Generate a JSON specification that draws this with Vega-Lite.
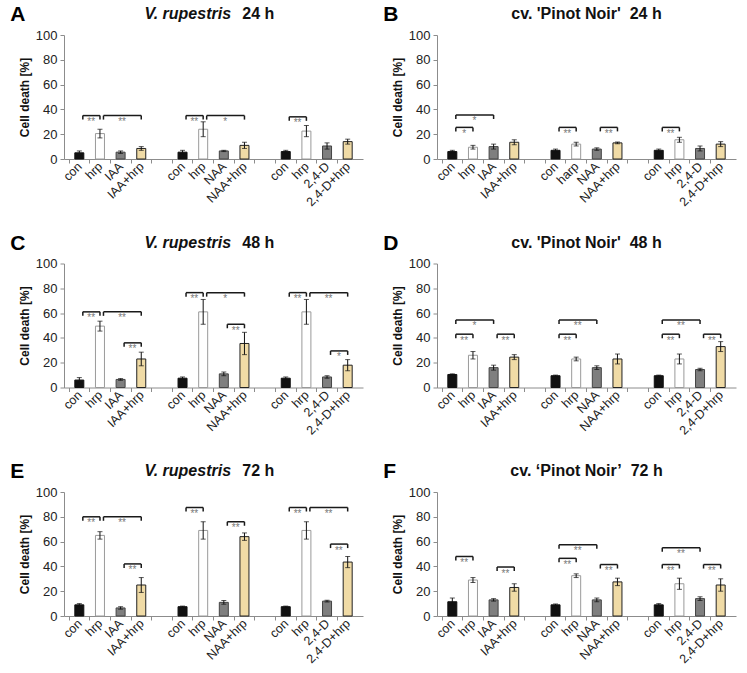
{
  "$schema": "https://vega.github.io/schema/vega-lite/v6.json",
  "background": "white",
  "padding": {"left": 10, "top": 4, "right": 5, "bottom": 3},
  "config": {
    "font": "Liberation Sans",
    "view": {"stroke": null},
    "axis": {"grid": false, "domainColor": "#8c8c8c", "tickColor": "#8c8c8c", "labelColor": "#222222", "labelFont": "Liberation Sans", "tickSize": 4},
    "axisY": {"labelFontSize": 13, "labelPadding": 3, "titleFontSize": 12, "titleFontWeight": "bold", "titleColor": "#111111", "titlePadding": 4},
    "axisX": {"labelFontSize": 12.5, "labelAngle": -45, "labelAlign": "right", "labelBaseline": "middle", "labelPadding": 1, "labelFlush": false, "tickOffset": -10.68, "labelOffset": 10.68},
    "title": {"font": "Liberation Sans", "fontSize": 16, "fontWeight": "bold", "color": "#111111", "frame": "group", "anchor": "middle", "offset": 7}
  },
  "datasets": {
    "bars": [
      {"p": "A", "pos": 1, "kind": "con", "v": 5, "e": 1.5},
      {"p": "A", "pos": 2, "kind": "hrp", "v": 20.5, "e": 3.5},
      {"p": "A", "pos": 3, "kind": "aux", "v": 5.5, "e": 1},
      {"p": "A", "pos": 4, "kind": "auxhrp", "v": 8.5, "e": 1.5},
      {"p": "A", "pos": 6, "kind": "con", "v": 5.5, "e": 1.5},
      {"p": "A", "pos": 7, "kind": "hrp", "v": 24, "e": 6},
      {"p": "A", "pos": 8, "kind": "aux", "v": 6.5, "e": 0.5},
      {"p": "A", "pos": 9, "kind": "auxhrp", "v": 11, "e": 2.5},
      {"p": "A", "pos": 11, "kind": "con", "v": 6, "e": 1},
      {"p": "A", "pos": 12, "kind": "hrp", "v": 22.5, "e": 4.5},
      {"p": "A", "pos": 13, "kind": "aux", "v": 10.5, "e": 2.5},
      {"p": "A", "pos": 14, "kind": "auxhrp", "v": 14, "e": 2},
      {"p": "B", "pos": 1, "kind": "con", "v": 6, "e": 1},
      {"p": "B", "pos": 2, "kind": "hrp", "v": 9.5, "e": 1.5},
      {"p": "B", "pos": 3, "kind": "aux", "v": 10, "e": 2},
      {"p": "B", "pos": 4, "kind": "auxhrp", "v": 13.5, "e": 2},
      {"p": "B", "pos": 6, "kind": "con", "v": 7, "e": 1},
      {"p": "B", "pos": 7, "kind": "hrp", "v": 12, "e": 1.5},
      {"p": "B", "pos": 8, "kind": "aux", "v": 8, "e": 1},
      {"p": "B", "pos": 9, "kind": "auxhrp", "v": 13, "e": 0.7},
      {"p": "B", "pos": 11, "kind": "con", "v": 7, "e": 1},
      {"p": "B", "pos": 12, "kind": "hrp", "v": 15.5, "e": 2},
      {"p": "B", "pos": 13, "kind": "aux", "v": 8.5, "e": 2},
      {"p": "B", "pos": 14, "kind": "auxhrp", "v": 12, "e": 2},
      {"p": "C", "pos": 1, "kind": "con", "v": 6, "e": 2},
      {"p": "C", "pos": 2, "kind": "hrp", "v": 49.5, "e": 4},
      {"p": "C", "pos": 3, "kind": "aux", "v": 6.5, "e": 0.7},
      {"p": "C", "pos": 4, "kind": "auxhrp", "v": 23, "e": 5.5},
      {"p": "C", "pos": 6, "kind": "con", "v": 7.5, "e": 1},
      {"p": "C", "pos": 7, "kind": "hrp", "v": 61, "e": 10},
      {"p": "C", "pos": 8, "kind": "aux", "v": 11, "e": 1.5},
      {"p": "C", "pos": 9, "kind": "auxhrp", "v": 35.5, "e": 9},
      {"p": "C", "pos": 11, "kind": "con", "v": 7.5, "e": 1},
      {"p": "C", "pos": 12, "kind": "hrp", "v": 61, "e": 10},
      {"p": "C", "pos": 13, "kind": "aux", "v": 8.5, "e": 1},
      {"p": "C", "pos": 14, "kind": "auxhrp", "v": 18, "e": 4.5},
      {"p": "D", "pos": 1, "kind": "con", "v": 10.5, "e": 0.5},
      {"p": "D", "pos": 2, "kind": "hrp", "v": 26, "e": 3},
      {"p": "D", "pos": 3, "kind": "aux", "v": 16, "e": 2},
      {"p": "D", "pos": 4, "kind": "auxhrp", "v": 24.5, "e": 2},
      {"p": "D", "pos": 6, "kind": "con", "v": 9.5, "e": 0.5},
      {"p": "D", "pos": 7, "kind": "hrp", "v": 23, "e": 1.5},
      {"p": "D", "pos": 8, "kind": "aux", "v": 16, "e": 1.5},
      {"p": "D", "pos": 9, "kind": "auxhrp", "v": 23, "e": 4},
      {"p": "D", "pos": 11, "kind": "con", "v": 9.5, "e": 0.5},
      {"p": "D", "pos": 12, "kind": "hrp", "v": 23, "e": 4},
      {"p": "D", "pos": 13, "kind": "aux", "v": 14.5, "e": 1},
      {"p": "D", "pos": 14, "kind": "auxhrp", "v": 33, "e": 4},
      {"p": "E", "pos": 1, "kind": "con", "v": 9, "e": 1},
      {"p": "E", "pos": 2, "kind": "hrp", "v": 65, "e": 3},
      {"p": "E", "pos": 3, "kind": "aux", "v": 6.5, "e": 1},
      {"p": "E", "pos": 4, "kind": "auxhrp", "v": 25, "e": 6},
      {"p": "E", "pos": 6, "kind": "con", "v": 7.5, "e": 0.5},
      {"p": "E", "pos": 7, "kind": "hrp", "v": 69, "e": 7},
      {"p": "E", "pos": 8, "kind": "aux", "v": 11, "e": 1.5},
      {"p": "E", "pos": 9, "kind": "auxhrp", "v": 64, "e": 3},
      {"p": "E", "pos": 11, "kind": "con", "v": 7.5, "e": 0.5},
      {"p": "E", "pos": 12, "kind": "hrp", "v": 69, "e": 7},
      {"p": "E", "pos": 13, "kind": "aux", "v": 12, "e": 0.7},
      {"p": "E", "pos": 14, "kind": "auxhrp", "v": 43.5, "e": 4.5},
      {"p": "F", "pos": 1, "kind": "con", "v": 11.5, "e": 3},
      {"p": "F", "pos": 2, "kind": "hrp", "v": 29, "e": 2},
      {"p": "F", "pos": 3, "kind": "aux", "v": 13, "e": 1},
      {"p": "F", "pos": 4, "kind": "auxhrp", "v": 23, "e": 3},
      {"p": "F", "pos": 6, "kind": "con", "v": 9, "e": 0.7},
      {"p": "F", "pos": 7, "kind": "hrp", "v": 32.5, "e": 1.5},
      {"p": "F", "pos": 8, "kind": "aux", "v": 13, "e": 1.5},
      {"p": "F", "pos": 9, "kind": "auxhrp", "v": 27.5, "e": 3},
      {"p": "F", "pos": 11, "kind": "con", "v": 9, "e": 1},
      {"p": "F", "pos": 12, "kind": "hrp", "v": 26, "e": 4.5},
      {"p": "F", "pos": 13, "kind": "aux", "v": 14, "e": 1.5},
      {"p": "F", "pos": 14, "kind": "auxhrp", "v": 25, "e": 5}
    ],
    "br": [
      {"p": "A", "a": 1, "b": 2, "y": 35, "s": "**"},
      {"p": "A", "a": 2, "b": 4, "y": 35, "s": "**"},
      {"p": "A", "a": 6, "b": 7, "y": 35, "s": "**"},
      {"p": "A", "a": 7, "b": 9, "y": 35, "s": "*"},
      {"p": "A", "a": 11, "b": 12, "y": 34, "s": "**"},
      {"p": "B", "a": 1, "b": 2, "y": 25.5, "s": "*"},
      {"p": "B", "a": 1, "b": 3, "y": 35.5, "s": "*"},
      {"p": "B", "a": 6, "b": 7, "y": 25.5, "s": "**"},
      {"p": "B", "a": 8, "b": 9, "y": 25.5, "s": "**"},
      {"p": "B", "a": 11, "b": 12, "y": 25.5, "s": "**"},
      {"p": "C", "a": 1, "b": 2, "y": 61, "s": "**"},
      {"p": "C", "a": 2, "b": 4, "y": 61, "s": "**"},
      {"p": "C", "a": 3, "b": 4, "y": 36, "s": "**"},
      {"p": "C", "a": 6, "b": 7, "y": 76.5, "s": "**"},
      {"p": "C", "a": 7, "b": 9, "y": 76.5, "s": "*"},
      {"p": "C", "a": 8, "b": 9, "y": 51, "s": "**"},
      {"p": "C", "a": 11, "b": 12, "y": 76.5, "s": "**"},
      {"p": "C", "a": 12, "b": 14, "y": 76.5, "s": "**"},
      {"p": "C", "a": 13, "b": 14, "y": 29.5, "s": "*"},
      {"p": "D", "a": 1, "b": 2, "y": 43, "s": "**"},
      {"p": "D", "a": 1, "b": 3, "y": 54.5, "s": "*"},
      {"p": "D", "a": 3, "b": 4, "y": 43, "s": "**"},
      {"p": "D", "a": 6, "b": 7, "y": 43, "s": "**"},
      {"p": "D", "a": 6, "b": 8, "y": 54.5, "s": "**"},
      {"p": "D", "a": 11, "b": 12, "y": 43, "s": "**"},
      {"p": "D", "a": 11, "b": 13, "y": 54.5, "s": "**"},
      {"p": "D", "a": 13, "b": 14, "y": 43, "s": "**"},
      {"p": "E", "a": 1, "b": 2, "y": 80, "s": "**"},
      {"p": "E", "a": 2, "b": 4, "y": 80, "s": "**"},
      {"p": "E", "a": 3, "b": 4, "y": 42, "s": "**"},
      {"p": "E", "a": 6, "b": 7, "y": 87.5, "s": "**"},
      {"p": "E", "a": 8, "b": 9, "y": 76, "s": "**"},
      {"p": "E", "a": 11, "b": 12, "y": 87.5, "s": "**"},
      {"p": "E", "a": 12, "b": 14, "y": 87.5, "s": "**"},
      {"p": "E", "a": 13, "b": 14, "y": 58, "s": "**"},
      {"p": "F", "a": 1, "b": 2, "y": 48, "s": "**"},
      {"p": "F", "a": 3, "b": 4, "y": 39.5, "s": "**"},
      {"p": "F", "a": 6, "b": 7, "y": 46.5, "s": "**"},
      {"p": "F", "a": 6, "b": 8, "y": 57.5, "s": "**"},
      {"p": "F", "a": 8, "b": 9, "y": 41.5, "s": "**"},
      {"p": "F", "a": 11, "b": 12, "y": 41.5, "s": "**"},
      {"p": "F", "a": 11, "b": 13, "y": 55, "s": "**"},
      {"p": "F", "a": 13, "b": 14, "y": 41.5, "s": "**"}
    ]
  },
  "spacing": 23.5,
  "vconcat": [
    {"spacing": 20, "hconcat": [
      {"title": {"text": "A", "anchor": "start", "frame": "bounds", "fontSize": 21, "fontWeight": "bold", "color": "#000000", "dx": -8, "dy": 19, "offset": 0},
       "vconcat": [{
        "width": 299, "height": 124,
        "resolve": {"axis": {"x": "independent", "y": "independent"}},
        "title": {"text": "V. rupestris", "subtitle": "\u200b\u00a0\u00a0\u00a0\u00a0\u00a0\u00a0\u00a0\u00a0\u00a0\u00a0\u00a0\u00a0\u00a0\u00a0\u00a0\u00a0\u00a0\u00a0\u00a0\u00a0\u00a0\u00a024 h", "fontStyle": "italic", "subtitleFont": "Liberation Sans", "subtitleFontSize": 16, "subtitleFontWeight": "bold", "subtitleFontStyle": "normal", "subtitleColor": "#111111", "subtitlePadding": -16, "align": "left", "dx": -69},
        "layer": [
          {"data": {"name": "bars"}, "transform": [{"filter": "datum.p == 'A'"}],
           "mark": {"type": "bar", "orient": "vertical", "size": 9, "strokeWidth": 1},
           "encoding": {
             "x": {"field": "pos", "type": "quantitative", "title": null, "scale": {"domain": [0.5, 14.5], "nice": false, "zero": false},
                   "axis": {"values": [1,2,3,4,5,6,7,8,9,10,11,12,13,14], "labelOverlap": false, "labelBound": false,
                            "labelExpr": "datum.value % 5 == 1 ? 'con' : datum.value % 5 == 2 ? 'hrp' : datum.value % 5 == 3 ? (datum.value < 5 ? 'IAA' : datum.value < 10 ? 'NAA' : '2,4-D') : datum.value % 5 == 4 ? (datum.value < 5 ? 'IAA+hrp' : datum.value < 10 ? 'NAA+hrp' : '2,4-D+hrp') : ''"}},
             "y": {"field": "v", "type": "quantitative", "title": "Cell death [%]", "scale": {"domain": [0, 100], "nice": false}, "axis": {"values": [0,20,40,60,80,100], "labelOverlap": false}},
             "fill": {"field": "kind", "type": "nominal", "scale": {"domain": ["con","hrp","aux","auxhrp"], "range": ["#111111","#ffffff","#7f7f7f","#f0dba6"]}, "legend": null},
             "stroke": {"field": "kind", "type": "nominal", "scale": {"domain": ["con","hrp","aux","auxhrp"], "range": ["#111111","#9a9a9a","#444444","#222222"]}, "legend": null}
           }},
          {"data": {"name": "bars"}, "transform": [{"filter": "datum.p == 'A'"}],
           "mark": {"type": "errorbar", "color": "#111111", "thickness": 1, "ticks": {"size": 5}},
           "encoding": {
             "x": {"field": "pos", "type": "quantitative", "axis": null, "scale": {"domain": [0.5, 14.5], "nice": false, "zero": false}},
             "y": {"field": "v", "type": "quantitative", "axis": null, "scale": {"domain": [0, 100], "nice": false}},
             "yError": {"field": "e"}
           }},
          {"data": {"name": "br"}, "transform": [{"filter": "datum.p == 'A'"}],
           "mark": {"type": "rule", "strokeWidth": 1.5, "color": "#1a1a1a", "xOffset": 3.5},
           "encoding": {
             "x": {"field": "a", "type": "quantitative", "axis": null, "scale": {"domain": [0.5, 14.5], "nice": false, "zero": false}},
             "x2": {"field": "b"},
             "y": {"field": "y", "type": "quantitative", "axis": null, "scale": {"domain": [0, 100], "nice": false}}
           }},
          {"data": {"name": "br"}, "transform": [{"filter": "datum.p == 'A'"}],
           "mark": {"type": "point", "shape": "M0,0L0,1", "size": 64, "filled": false, "strokeWidth": 1.5, "color": "#1a1a1a", "opacity": 1, "xOffset": 3.5},
           "encoding": {
             "x": {"field": "a", "type": "quantitative", "axis": null, "scale": {"domain": [0.5, 14.5], "nice": false, "zero": false}},
             "y": {"field": "y", "type": "quantitative", "axis": null, "scale": {"domain": [0, 100], "nice": false}}
           }},
          {"data": {"name": "br"}, "transform": [{"filter": "datum.p == 'A'"}],
           "mark": {"type": "point", "shape": "M0,0L0,1", "size": 64, "filled": false, "strokeWidth": 1.5, "color": "#1a1a1a", "opacity": 1},
           "encoding": {
             "x": {"field": "b", "type": "quantitative", "axis": null, "scale": {"domain": [0.5, 14.5], "nice": false, "zero": false}},
             "y": {"field": "y", "type": "quantitative", "axis": null, "scale": {"domain": [0, 100], "nice": false}}
           }},
          {"data": {"name": "br"}, "transform": [{"filter": "datum.p == 'A'"}, {"calculate": "(datum.a + datum.b) / 2", "as": "m"}],
           "mark": {"type": "text", "baseline": "top", "dy": 1.5, "dx": 1.5, "fontSize": 10, "color": "#777777"},
           "encoding": {
             "x": {"field": "m", "type": "quantitative", "axis": null, "scale": {"domain": [0.5, 14.5], "nice": false, "zero": false}},
             "y": {"field": "y", "type": "quantitative", "axis": null, "scale": {"domain": [0, 100], "nice": false}},
             "text": {"field": "s"}
           }}
        ]}]},
      {"title": {"text": "B", "anchor": "start", "frame": "bounds", "fontSize": 21, "fontWeight": "bold", "color": "#000000", "dx": -8, "dy": 19, "offset": 0},
       "vconcat": [{
        "width": 299, "height": 124,
        "resolve": {"axis": {"x": "independent", "y": "independent"}},
        "title": {"text": "cv. 'Pinot Noir'\u00a0 24 h"},
        "layer": [
          {"data": {"name": "bars"}, "transform": [{"filter": "datum.p == 'B'"}],
           "mark": {"type": "bar", "orient": "vertical", "size": 9, "strokeWidth": 1},
           "encoding": {
             "x": {"field": "pos", "type": "quantitative", "title": null, "scale": {"domain": [0.5, 14.5], "nice": false, "zero": false},
                   "axis": {"values": [1,2,3,4,5,6,7,8,9,10,11,12,13,14], "labelOverlap": false, "labelBound": false,
                            "labelExpr": "datum.value == 7 ? 'harp' : datum.value % 5 == 1 ? 'con' : datum.value % 5 == 2 ? 'hrp' : datum.value % 5 == 3 ? (datum.value < 5 ? 'IAA' : datum.value < 10 ? 'NAA' : '2,4-D') : datum.value % 5 == 4 ? (datum.value < 5 ? 'IAA+hrp' : datum.value < 10 ? 'NAA+hrp' : '2,4-D+hrp') : ''"}},
             "y": {"field": "v", "type": "quantitative", "title": "Cell death [%]", "scale": {"domain": [0, 100], "nice": false}, "axis": {"values": [0,20,40,60,80,100], "labelOverlap": false}},
             "fill": {"field": "kind", "type": "nominal", "scale": {"domain": ["con","hrp","aux","auxhrp"], "range": ["#111111","#ffffff","#7f7f7f","#f0dba6"]}, "legend": null},
             "stroke": {"field": "kind", "type": "nominal", "scale": {"domain": ["con","hrp","aux","auxhrp"], "range": ["#111111","#9a9a9a","#444444","#222222"]}, "legend": null}
           }},
          {"data": {"name": "bars"}, "transform": [{"filter": "datum.p == 'B'"}],
           "mark": {"type": "errorbar", "color": "#111111", "thickness": 1, "ticks": {"size": 5}},
           "encoding": {
             "x": {"field": "pos", "type": "quantitative", "axis": null, "scale": {"domain": [0.5, 14.5], "nice": false, "zero": false}},
             "y": {"field": "v", "type": "quantitative", "axis": null, "scale": {"domain": [0, 100], "nice": false}},
             "yError": {"field": "e"}
           }},
          {"data": {"name": "br"}, "transform": [{"filter": "datum.p == 'B'"}],
           "mark": {"type": "rule", "strokeWidth": 1.5, "color": "#1a1a1a", "xOffset": 3.5},
           "encoding": {
             "x": {"field": "a", "type": "quantitative", "axis": null, "scale": {"domain": [0.5, 14.5], "nice": false, "zero": false}},
             "x2": {"field": "b"},
             "y": {"field": "y", "type": "quantitative", "axis": null, "scale": {"domain": [0, 100], "nice": false}}
           }},
          {"data": {"name": "br"}, "transform": [{"filter": "datum.p == 'B'"}],
           "mark": {"type": "point", "shape": "M0,0L0,1", "size": 64, "filled": false, "strokeWidth": 1.5, "color": "#1a1a1a", "opacity": 1, "xOffset": 3.5},
           "encoding": {
             "x": {"field": "a", "type": "quantitative", "axis": null, "scale": {"domain": [0.5, 14.5], "nice": false, "zero": false}},
             "y": {"field": "y", "type": "quantitative", "axis": null, "scale": {"domain": [0, 100], "nice": false}}
           }},
          {"data": {"name": "br"}, "transform": [{"filter": "datum.p == 'B'"}],
           "mark": {"type": "point", "shape": "M0,0L0,1", "size": 64, "filled": false, "strokeWidth": 1.5, "color": "#1a1a1a", "opacity": 1},
           "encoding": {
             "x": {"field": "b", "type": "quantitative", "axis": null, "scale": {"domain": [0.5, 14.5], "nice": false, "zero": false}},
             "y": {"field": "y", "type": "quantitative", "axis": null, "scale": {"domain": [0, 100], "nice": false}}
           }},
          {"data": {"name": "br"}, "transform": [{"filter": "datum.p == 'B'"}, {"calculate": "(datum.a + datum.b) / 2", "as": "m"}],
           "mark": {"type": "text", "baseline": "top", "dy": 1.5, "dx": 1.5, "fontSize": 10, "color": "#777777"},
           "encoding": {
             "x": {"field": "m", "type": "quantitative", "axis": null, "scale": {"domain": [0.5, 14.5], "nice": false, "zero": false}},
             "y": {"field": "y", "type": "quantitative", "axis": null, "scale": {"domain": [0, 100], "nice": false}},
             "text": {"field": "s"}
           }}
        ]}]}
    ]},
    {"spacing": 20, "hconcat": [
      {"title": {"text": "C", "anchor": "start", "frame": "bounds", "fontSize": 21, "fontWeight": "bold", "color": "#000000", "dx": -8, "dy": 19, "offset": 0},
       "vconcat": [{
        "width": 299, "height": 124,
        "resolve": {"axis": {"x": "independent", "y": "independent"}},
        "title": {"text": "V. rupestris", "subtitle": "\u200b\u00a0\u00a0\u00a0\u00a0\u00a0\u00a0\u00a0\u00a0\u00a0\u00a0\u00a0\u00a0\u00a0\u00a0\u00a0\u00a0\u00a0\u00a0\u00a0\u00a0\u00a0\u00a048 h", "fontStyle": "italic", "subtitleFont": "Liberation Sans", "subtitleFontSize": 16, "subtitleFontWeight": "bold", "subtitleFontStyle": "normal", "subtitleColor": "#111111", "subtitlePadding": -16, "align": "left", "dx": -69},
        "layer": [
          {"data": {"name": "bars"}, "transform": [{"filter": "datum.p == 'C'"}],
           "mark": {"type": "bar", "orient": "vertical", "size": 9, "strokeWidth": 1},
           "encoding": {
             "x": {"field": "pos", "type": "quantitative", "title": null, "scale": {"domain": [0.5, 14.5], "nice": false, "zero": false},
                   "axis": {"values": [1,2,3,4,5,6,7,8,9,10,11,12,13,14], "labelOverlap": false, "labelBound": false,
                            "labelExpr": "datum.value % 5 == 1 ? 'con' : datum.value % 5 == 2 ? 'hrp' : datum.value % 5 == 3 ? (datum.value < 5 ? 'IAA' : datum.value < 10 ? 'NAA' : '2,4-D') : datum.value % 5 == 4 ? (datum.value < 5 ? 'IAA+hrp' : datum.value < 10 ? 'NAA+hrp' : '2,4-D+hrp') : ''"}},
             "y": {"field": "v", "type": "quantitative", "title": "Cell death [%]", "scale": {"domain": [0, 100], "nice": false}, "axis": {"values": [0,20,40,60,80,100], "labelOverlap": false}},
             "fill": {"field": "kind", "type": "nominal", "scale": {"domain": ["con","hrp","aux","auxhrp"], "range": ["#111111","#ffffff","#7f7f7f","#f0dba6"]}, "legend": null},
             "stroke": {"field": "kind", "type": "nominal", "scale": {"domain": ["con","hrp","aux","auxhrp"], "range": ["#111111","#9a9a9a","#444444","#222222"]}, "legend": null}
           }},
          {"data": {"name": "bars"}, "transform": [{"filter": "datum.p == 'C'"}],
           "mark": {"type": "errorbar", "color": "#111111", "thickness": 1, "ticks": {"size": 5}},
           "encoding": {
             "x": {"field": "pos", "type": "quantitative", "axis": null, "scale": {"domain": [0.5, 14.5], "nice": false, "zero": false}},
             "y": {"field": "v", "type": "quantitative", "axis": null, "scale": {"domain": [0, 100], "nice": false}},
             "yError": {"field": "e"}
           }},
          {"data": {"name": "br"}, "transform": [{"filter": "datum.p == 'C'"}],
           "mark": {"type": "rule", "strokeWidth": 1.5, "color": "#1a1a1a", "xOffset": 3.5},
           "encoding": {
             "x": {"field": "a", "type": "quantitative", "axis": null, "scale": {"domain": [0.5, 14.5], "nice": false, "zero": false}},
             "x2": {"field": "b"},
             "y": {"field": "y", "type": "quantitative", "axis": null, "scale": {"domain": [0, 100], "nice": false}}
           }},
          {"data": {"name": "br"}, "transform": [{"filter": "datum.p == 'C'"}],
           "mark": {"type": "point", "shape": "M0,0L0,1", "size": 64, "filled": false, "strokeWidth": 1.5, "color": "#1a1a1a", "opacity": 1, "xOffset": 3.5},
           "encoding": {
             "x": {"field": "a", "type": "quantitative", "axis": null, "scale": {"domain": [0.5, 14.5], "nice": false, "zero": false}},
             "y": {"field": "y", "type": "quantitative", "axis": null, "scale": {"domain": [0, 100], "nice": false}}
           }},
          {"data": {"name": "br"}, "transform": [{"filter": "datum.p == 'C'"}],
           "mark": {"type": "point", "shape": "M0,0L0,1", "size": 64, "filled": false, "strokeWidth": 1.5, "color": "#1a1a1a", "opacity": 1},
           "encoding": {
             "x": {"field": "b", "type": "quantitative", "axis": null, "scale": {"domain": [0.5, 14.5], "nice": false, "zero": false}},
             "y": {"field": "y", "type": "quantitative", "axis": null, "scale": {"domain": [0, 100], "nice": false}}
           }},
          {"data": {"name": "br"}, "transform": [{"filter": "datum.p == 'C'"}, {"calculate": "(datum.a + datum.b) / 2", "as": "m"}],
           "mark": {"type": "text", "baseline": "top", "dy": 1.5, "dx": 1.5, "fontSize": 10, "color": "#777777"},
           "encoding": {
             "x": {"field": "m", "type": "quantitative", "axis": null, "scale": {"domain": [0.5, 14.5], "nice": false, "zero": false}},
             "y": {"field": "y", "type": "quantitative", "axis": null, "scale": {"domain": [0, 100], "nice": false}},
             "text": {"field": "s"}
           }}
        ]}]},
      {"title": {"text": "D", "anchor": "start", "frame": "bounds", "fontSize": 21, "fontWeight": "bold", "color": "#000000", "dx": -8, "dy": 19, "offset": 0},
       "vconcat": [{
        "width": 299, "height": 124,
        "resolve": {"axis": {"x": "independent", "y": "independent"}},
        "title": {"text": "cv. 'Pinot Noir'\u00a0 48 h"},
        "layer": [
          {"data": {"name": "bars"}, "transform": [{"filter": "datum.p == 'D'"}],
           "mark": {"type": "bar", "orient": "vertical", "size": 9, "strokeWidth": 1},
           "encoding": {
             "x": {"field": "pos", "type": "quantitative", "title": null, "scale": {"domain": [0.5, 14.5], "nice": false, "zero": false},
                   "axis": {"values": [1,2,3,4,5,6,7,8,9,10,11,12,13,14], "labelOverlap": false, "labelBound": false,
                            "labelExpr": "datum.value % 5 == 1 ? 'con' : datum.value % 5 == 2 ? 'hrp' : datum.value % 5 == 3 ? (datum.value < 5 ? 'IAA' : datum.value < 10 ? 'NAA' : '2,4-D') : datum.value % 5 == 4 ? (datum.value < 5 ? 'IAA+hrp' : datum.value < 10 ? 'NAA+hrp' : '2,4-D+hrp') : ''"}},
             "y": {"field": "v", "type": "quantitative", "title": "Cell death [%]", "scale": {"domain": [0, 100], "nice": false}, "axis": {"values": [0,20,40,60,80,100], "labelOverlap": false}},
             "fill": {"field": "kind", "type": "nominal", "scale": {"domain": ["con","hrp","aux","auxhrp"], "range": ["#111111","#ffffff","#7f7f7f","#f0dba6"]}, "legend": null},
             "stroke": {"field": "kind", "type": "nominal", "scale": {"domain": ["con","hrp","aux","auxhrp"], "range": ["#111111","#9a9a9a","#444444","#222222"]}, "legend": null}
           }},
          {"data": {"name": "bars"}, "transform": [{"filter": "datum.p == 'D'"}],
           "mark": {"type": "errorbar", "color": "#111111", "thickness": 1, "ticks": {"size": 5}},
           "encoding": {
             "x": {"field": "pos", "type": "quantitative", "axis": null, "scale": {"domain": [0.5, 14.5], "nice": false, "zero": false}},
             "y": {"field": "v", "type": "quantitative", "axis": null, "scale": {"domain": [0, 100], "nice": false}},
             "yError": {"field": "e"}
           }},
          {"data": {"name": "br"}, "transform": [{"filter": "datum.p == 'D'"}],
           "mark": {"type": "rule", "strokeWidth": 1.5, "color": "#1a1a1a", "xOffset": 3.5},
           "encoding": {
             "x": {"field": "a", "type": "quantitative", "axis": null, "scale": {"domain": [0.5, 14.5], "nice": false, "zero": false}},
             "x2": {"field": "b"},
             "y": {"field": "y", "type": "quantitative", "axis": null, "scale": {"domain": [0, 100], "nice": false}}
           }},
          {"data": {"name": "br"}, "transform": [{"filter": "datum.p == 'D'"}],
           "mark": {"type": "point", "shape": "M0,0L0,1", "size": 64, "filled": false, "strokeWidth": 1.5, "color": "#1a1a1a", "opacity": 1, "xOffset": 3.5},
           "encoding": {
             "x": {"field": "a", "type": "quantitative", "axis": null, "scale": {"domain": [0.5, 14.5], "nice": false, "zero": false}},
             "y": {"field": "y", "type": "quantitative", "axis": null, "scale": {"domain": [0, 100], "nice": false}}
           }},
          {"data": {"name": "br"}, "transform": [{"filter": "datum.p == 'D'"}],
           "mark": {"type": "point", "shape": "M0,0L0,1", "size": 64, "filled": false, "strokeWidth": 1.5, "color": "#1a1a1a", "opacity": 1},
           "encoding": {
             "x": {"field": "b", "type": "quantitative", "axis": null, "scale": {"domain": [0.5, 14.5], "nice": false, "zero": false}},
             "y": {"field": "y", "type": "quantitative", "axis": null, "scale": {"domain": [0, 100], "nice": false}}
           }},
          {"data": {"name": "br"}, "transform": [{"filter": "datum.p == 'D'"}, {"calculate": "(datum.a + datum.b) / 2", "as": "m"}],
           "mark": {"type": "text", "baseline": "top", "dy": 1.5, "dx": 1.5, "fontSize": 10, "color": "#777777"},
           "encoding": {
             "x": {"field": "m", "type": "quantitative", "axis": null, "scale": {"domain": [0.5, 14.5], "nice": false, "zero": false}},
             "y": {"field": "y", "type": "quantitative", "axis": null, "scale": {"domain": [0, 100], "nice": false}},
             "text": {"field": "s"}
           }}
        ]}]}
    ]},
    {"spacing": 20, "hconcat": [
      {"title": {"text": "E", "anchor": "start", "frame": "bounds", "fontSize": 21, "fontWeight": "bold", "color": "#000000", "dx": -8, "dy": 19, "offset": 0},
       "vconcat": [{
        "width": 299, "height": 124,
        "resolve": {"axis": {"x": "independent", "y": "independent"}},
        "title": {"text": "V. rupestris", "subtitle": "\u200b\u00a0\u00a0\u00a0\u00a0\u00a0\u00a0\u00a0\u00a0\u00a0\u00a0\u00a0\u00a0\u00a0\u00a0\u00a0\u00a0\u00a0\u00a0\u00a0\u00a0\u00a0\u00a072 h", "fontStyle": "italic", "subtitleFont": "Liberation Sans", "subtitleFontSize": 16, "subtitleFontWeight": "bold", "subtitleFontStyle": "normal", "subtitleColor": "#111111", "subtitlePadding": -16, "align": "left", "dx": -69},
        "layer": [
          {"data": {"name": "bars"}, "transform": [{"filter": "datum.p == 'E'"}],
           "mark": {"type": "bar", "orient": "vertical", "size": 9, "strokeWidth": 1},
           "encoding": {
             "x": {"field": "pos", "type": "quantitative", "title": null, "scale": {"domain": [0.5, 14.5], "nice": false, "zero": false},
                   "axis": {"values": [1,2,3,4,5,6,7,8,9,10,11,12,13,14], "labelOverlap": false, "labelBound": false,
                            "labelExpr": "datum.value % 5 == 1 ? 'con' : datum.value % 5 == 2 ? 'hrp' : datum.value % 5 == 3 ? (datum.value < 5 ? 'IAA' : datum.value < 10 ? 'NAA' : '2,4-D') : datum.value % 5 == 4 ? (datum.value < 5 ? 'IAA+hrp' : datum.value < 10 ? 'NAA+hrp' : '2,4-D+hrp') : ''"}},
             "y": {"field": "v", "type": "quantitative", "title": "Cell death [%]", "scale": {"domain": [0, 100], "nice": false}, "axis": {"values": [0,20,40,60,80,100], "labelOverlap": false}},
             "fill": {"field": "kind", "type": "nominal", "scale": {"domain": ["con","hrp","aux","auxhrp"], "range": ["#111111","#ffffff","#7f7f7f","#f0dba6"]}, "legend": null},
             "stroke": {"field": "kind", "type": "nominal", "scale": {"domain": ["con","hrp","aux","auxhrp"], "range": ["#111111","#9a9a9a","#444444","#222222"]}, "legend": null}
           }},
          {"data": {"name": "bars"}, "transform": [{"filter": "datum.p == 'E'"}],
           "mark": {"type": "errorbar", "color": "#111111", "thickness": 1, "ticks": {"size": 5}},
           "encoding": {
             "x": {"field": "pos", "type": "quantitative", "axis": null, "scale": {"domain": [0.5, 14.5], "nice": false, "zero": false}},
             "y": {"field": "v", "type": "quantitative", "axis": null, "scale": {"domain": [0, 100], "nice": false}},
             "yError": {"field": "e"}
           }},
          {"data": {"name": "br"}, "transform": [{"filter": "datum.p == 'E'"}],
           "mark": {"type": "rule", "strokeWidth": 1.5, "color": "#1a1a1a", "xOffset": 3.5},
           "encoding": {
             "x": {"field": "a", "type": "quantitative", "axis": null, "scale": {"domain": [0.5, 14.5], "nice": false, "zero": false}},
             "x2": {"field": "b"},
             "y": {"field": "y", "type": "quantitative", "axis": null, "scale": {"domain": [0, 100], "nice": false}}
           }},
          {"data": {"name": "br"}, "transform": [{"filter": "datum.p == 'E'"}],
           "mark": {"type": "point", "shape": "M0,0L0,1", "size": 64, "filled": false, "strokeWidth": 1.5, "color": "#1a1a1a", "opacity": 1, "xOffset": 3.5},
           "encoding": {
             "x": {"field": "a", "type": "quantitative", "axis": null, "scale": {"domain": [0.5, 14.5], "nice": false, "zero": false}},
             "y": {"field": "y", "type": "quantitative", "axis": null, "scale": {"domain": [0, 100], "nice": false}}
           }},
          {"data": {"name": "br"}, "transform": [{"filter": "datum.p == 'E'"}],
           "mark": {"type": "point", "shape": "M0,0L0,1", "size": 64, "filled": false, "strokeWidth": 1.5, "color": "#1a1a1a", "opacity": 1},
           "encoding": {
             "x": {"field": "b", "type": "quantitative", "axis": null, "scale": {"domain": [0.5, 14.5], "nice": false, "zero": false}},
             "y": {"field": "y", "type": "quantitative", "axis": null, "scale": {"domain": [0, 100], "nice": false}}
           }},
          {"data": {"name": "br"}, "transform": [{"filter": "datum.p == 'E'"}, {"calculate": "(datum.a + datum.b) / 2", "as": "m"}],
           "mark": {"type": "text", "baseline": "top", "dy": 1.5, "dx": 1.5, "fontSize": 10, "color": "#777777"},
           "encoding": {
             "x": {"field": "m", "type": "quantitative", "axis": null, "scale": {"domain": [0.5, 14.5], "nice": false, "zero": false}},
             "y": {"field": "y", "type": "quantitative", "axis": null, "scale": {"domain": [0, 100], "nice": false}},
             "text": {"field": "s"}
           }}
        ]}]},
      {"title": {"text": "F", "anchor": "start", "frame": "bounds", "fontSize": 21, "fontWeight": "bold", "color": "#000000", "dx": -8, "dy": 19, "offset": 0},
       "vconcat": [{
        "width": 299, "height": 124,
        "resolve": {"axis": {"x": "independent", "y": "independent"}},
        "title": {"text": "cv. \u2018Pinot Noir\u2019\u00a0 72 h"},
        "layer": [
          {"data": {"name": "bars"}, "transform": [{"filter": "datum.p == 'F'"}],
           "mark": {"type": "bar", "orient": "vertical", "size": 9, "strokeWidth": 1},
           "encoding": {
             "x": {"field": "pos", "type": "quantitative", "title": null, "scale": {"domain": [0.5, 14.5], "nice": false, "zero": false},
                   "axis": {"values": [1,2,3,4,5,6,7,8,9,10,11,12,13,14], "labelOverlap": false, "labelBound": false,
                            "labelExpr": "datum.value % 5 == 1 ? 'con' : datum.value % 5 == 2 ? 'hrp' : datum.value % 5 == 3 ? (datum.value < 5 ? 'IAA' : datum.value < 10 ? 'NAA' : '2,4-D') : datum.value % 5 == 4 ? (datum.value < 5 ? 'IAA+hrp' : datum.value < 10 ? 'NAA+hrp' : '2,4-D+hrp') : ''"}},
             "y": {"field": "v", "type": "quantitative", "title": "Cell death [%]", "scale": {"domain": [0, 100], "nice": false}, "axis": {"values": [0,20,40,60,80,100], "labelOverlap": false}},
             "fill": {"field": "kind", "type": "nominal", "scale": {"domain": ["con","hrp","aux","auxhrp"], "range": ["#111111","#ffffff","#7f7f7f","#f0dba6"]}, "legend": null},
             "stroke": {"field": "kind", "type": "nominal", "scale": {"domain": ["con","hrp","aux","auxhrp"], "range": ["#111111","#9a9a9a","#444444","#222222"]}, "legend": null}
           }},
          {"data": {"name": "bars"}, "transform": [{"filter": "datum.p == 'F'"}],
           "mark": {"type": "errorbar", "color": "#111111", "thickness": 1, "ticks": {"size": 5}},
           "encoding": {
             "x": {"field": "pos", "type": "quantitative", "axis": null, "scale": {"domain": [0.5, 14.5], "nice": false, "zero": false}},
             "y": {"field": "v", "type": "quantitative", "axis": null, "scale": {"domain": [0, 100], "nice": false}},
             "yError": {"field": "e"}
           }},
          {"data": {"name": "br"}, "transform": [{"filter": "datum.p == 'F'"}],
           "mark": {"type": "rule", "strokeWidth": 1.5, "color": "#1a1a1a", "xOffset": 3.5},
           "encoding": {
             "x": {"field": "a", "type": "quantitative", "axis": null, "scale": {"domain": [0.5, 14.5], "nice": false, "zero": false}},
             "x2": {"field": "b"},
             "y": {"field": "y", "type": "quantitative", "axis": null, "scale": {"domain": [0, 100], "nice": false}}
           }},
          {"data": {"name": "br"}, "transform": [{"filter": "datum.p == 'F'"}],
           "mark": {"type": "point", "shape": "M0,0L0,1", "size": 64, "filled": false, "strokeWidth": 1.5, "color": "#1a1a1a", "opacity": 1, "xOffset": 3.5},
           "encoding": {
             "x": {"field": "a", "type": "quantitative", "axis": null, "scale": {"domain": [0.5, 14.5], "nice": false, "zero": false}},
             "y": {"field": "y", "type": "quantitative", "axis": null, "scale": {"domain": [0, 100], "nice": false}}
           }},
          {"data": {"name": "br"}, "transform": [{"filter": "datum.p == 'F'"}],
           "mark": {"type": "point", "shape": "M0,0L0,1", "size": 64, "filled": false, "strokeWidth": 1.5, "color": "#1a1a1a", "opacity": 1},
           "encoding": {
             "x": {"field": "b", "type": "quantitative", "axis": null, "scale": {"domain": [0.5, 14.5], "nice": false, "zero": false}},
             "y": {"field": "y", "type": "quantitative", "axis": null, "scale": {"domain": [0, 100], "nice": false}}
           }},
          {"data": {"name": "br"}, "transform": [{"filter": "datum.p == 'F'"}, {"calculate": "(datum.a + datum.b) / 2", "as": "m"}],
           "mark": {"type": "text", "baseline": "top", "dy": 1.5, "dx": 1.5, "fontSize": 10, "color": "#777777"},
           "encoding": {
             "x": {"field": "m", "type": "quantitative", "axis": null, "scale": {"domain": [0.5, 14.5], "nice": false, "zero": false}},
             "y": {"field": "y", "type": "quantitative", "axis": null, "scale": {"domain": [0, 100], "nice": false}},
             "text": {"field": "s"}
           }}
        ]}]}
    ]}
  ]
}
